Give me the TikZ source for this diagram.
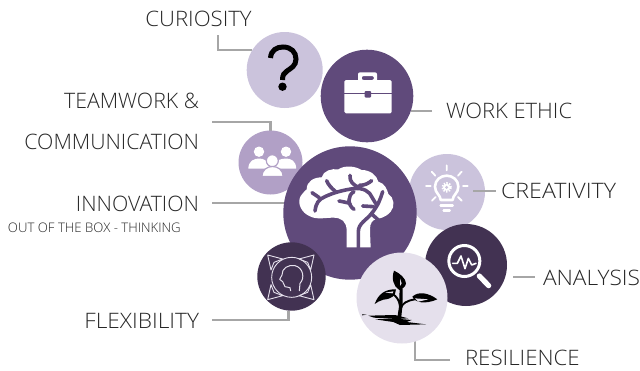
\documentclass[tikz,border=0pt]{standalone}
\usepackage{graphicx}
\usepackage{fontspec}
\setmainfont{Open Sans Light}
\definecolor{txt}{HTML}{262626}
\definecolor{conn}{HTML}{A6A6A6}
\definecolor{pA}{HTML}{CBC3DC}
\definecolor{pB}{HTML}{604A7B}
\definecolor{pC}{HTML}{B1A0C6}
\definecolor{pD}{HTML}{423252}
\definecolor{pE}{HTML}{E5E0EC}
\tikzset{
 bub/.style={circle,fill=#1,draw=none,inner sep=0pt,outer sep=0pt},
 anc/.style={circle,inner sep=0pt,outer sep=0pt},
 lab/.style={text=txt,inner sep=0pt,outer sep=0pt,font=\fontsize{21.3}{22}\selectfont},
 smalllab/.style={text=txt,inner sep=0pt,outer sep=0pt,font=\fontsize{13.2}{14}\selectfont},
 link/.style={draw=conn,line width=2.4pt},
 zoomed/.style={x=0.33333pt,y=-0.33333pt},
 wl/.style={draw=white,line cap=round,line join=round},
 br/.style={draw=pB,line width=3.6pt,line cap=round,line join=round},
}
\begin{document}
\begin{tikzpicture}[x=1pt,y=-1pt]
\useasboundingbox (0,0) rectangle (640,370);
% labels
\node[lab,anchor=center] (lcur) at (198.5,18.5) {\scalebox{1.04}[1]{CURIOSITY}};
\node[lab,anchor=east] (lteam) at (199,100.5) {TEAMWORK \&};
\node[lab,anchor=east] (lcomm) at (199,141.5) {COMMUNICATION};
\node[lab,anchor=east] (linn) at (199,203.5) {INNOVATION};
\node[smalllab,anchor=west] (lout) at (8,227.5) {OUT OF THE BOX - THINKING};
\node[lab,anchor=east] (lflex) at (199,320.5) {\scalebox{1.065}[1]{FLEXIBILITY}};
\node[lab,anchor=west] (lwork) at (446,110.5) {\scalebox{1.03}[1]{WORK ETHIC}};
\node[lab,anchor=west] (lcre) at (501,190.5) {\scalebox{1.09}[1]{CREATIVITY}};
\node[lab,anchor=west] (lana) at (543,277.5) {\scalebox{1.065}[1]{ANALYSIS}};
\node[lab,anchor=west] (lres) at (465,357.5) {\scalebox{1.045}[1]{RESILIENCE}};
% invisible anchors of bubbles, for the connectors
\node[anc,minimum size=76pt] (cur) at (284.7,70) {};
\node[anc,minimum size=92.6pt] (work) at (367,96) {};
\node[anc,minimum size=64pt] (team) at (270.5,162.5) {};
\node[anc,minimum size=133.4pt] (brain) at (350,213) {};
\node[anc,minimum size=68.4pt] (flex) at (291.5,276.5) {};
\node[anc,minimum size=91pt] (res) at (402,298) {};
% connector ends
\coordinate (c1a) at (218,35);
\coordinate (c2a) at (212,122);
\coordinate (c3a) at (212,203);
\coordinate (c4a) at (212,320);
\coordinate (c5a) at (432,111);
\coordinate (c6a) at (473,191);
\coordinate (c6b) at (496,191);
\coordinate (c7a) at (513,277);
\coordinate (c7b) at (535,277);
\coordinate (c8a) at (450,360);
\coordinate (c8b) at (415,340);
% connectors
\draw[link] (c1a) |- (cur.148);
\draw[link] (c2a) -| (team.north);
\draw[link] (c3a) -- (c3a -| brain.172);
\draw[link] (c4a) -| (flex.-95);
\draw[link] (c5a) -- (c5a -| work.-18);
\draw[link] (c8a) -| (c8b);
% bubbles
\node[bub=pA,minimum size=76pt] at (cur) {};
\node[bub=pB,minimum size=92.6pt] at (work) {};
\node[bub=pC,minimum size=64pt] at (team) {};
\node[bub=pA,minimum size=76pt] (cre) at (447,192) {};
\node[bub=pB,minimum size=133.4pt] at (brain) {};
\node[bub=pD,minimum size=82pt] (ana) at (466,265) {};
\node[bub=pD,minimum size=68.4pt] at (flex) {};
\node[bub=pE,minimum size=91pt] at (res) {};
\draw[link] (c6a) -- (c6b);
\draw[link] (c7a) -- (c7b);
% question mark
\draw[line width=5pt,black] (270.5,58) .. controls (271,50) and (277,47) .. (283,47) .. controls (291,47) and (296,52) .. (296,59) .. controls (296,66) and (291,68) .. (287,71) .. controls (284,73) and (282.5,75) .. (282.5,80);
\fill[black] (282.5,86.7) circle (4.2pt);
% briefcase
\fill[white,rounded corners=1.5pt] (344.3,80) rectangle (391.7,113.3);
\fill[white,rounded corners=2pt,even odd rule] (358,72.3) rectangle (377,82) (361.7,76) rectangle (374,80);
\draw[pB,line width=1pt] (344,93.7) -- (392,93.7);
\fill[pB,rounded corners=1pt] (364.5,91) rectangle (371,97.5);
% team
\fill[white] (259,151.7) circle (5.2pt) (286,151.7) circle (5.2pt);
\fill[white] (248.3,168.5) .. controls (248.5,161) and (254,158.5) .. (259,158.5) .. controls (264,158.5) and (269,161) .. (270,168.5) -- cycle;
\fill[white] (271,168.5) .. controls (272,161) and (281,158.5) .. (286,158.5) .. controls (291,158.5) and (296,161) .. (296.2,168.5) -- cycle;
\fill[white,draw=pC,line width=1.2pt] (272.3,160.7) circle (6pt);
\fill[white,draw=pC,line width=1.2pt] (261.8,176.5) .. controls (262,170) and (267,166.5) .. (272.5,166.5) .. controls (278,166.5) and (283,170) .. (283.2,176.5) -- cycle;
% brain
\begin{scope}[shift={(270,140)},zoomed]
\fill[white] (230,322) -- (230,272) .. controls (230,245) and (215,233) .. (190,233) .. controls (165,233) and (140,240) .. (118,228)
 .. controls (95,218) and (80,190) .. (92,168) .. controls (97,158) and (105,155) .. (110,148)
 .. controls (110,125) and (130,112) .. (155,112) .. controls (160,92) and (185,85) .. (205,88)
 .. controls (225,75) and (255,78) .. (275,90) .. controls (300,90) and (320,105) .. (325,125)
 .. controls (345,130) and (352,150) .. (355,162) .. controls (372,172) and (376,200) .. (362,215)
 .. controls (345,235) and (325,235) .. (312,240) .. controls (300,248) and (300,260) .. (300,275) -- (302,322) -- cycle;
\draw[br] (265,323) -- (265,275) .. controls (265,250) and (290,240) .. (305,220) .. controls (325,195) and (330,180) .. (338,155);
\draw[br] (305,222) -- (325,240);
\draw[br] (278,198) -- (312,200);
\draw[br] (135,213) .. controls (138,190) and (145,178) .. (165,170) .. controls (190,158) and (220,150) .. (250,146) .. controls (280,142) and (300,155) .. (306,172) -- (320,195);
\draw[br] (126,158) -- (148,173);
\draw[br] (170,122) .. controls (175,135) and (185,145) .. (197,155);
\draw[br] (240,106) .. controls (238,125) and (250,135) .. (268,143);
\draw[br] (268,136) .. controls (285,136) and (295,130) .. (305,122);
\draw[br] (207,183) .. controls (220,185) and (230,188) .. (240,190);
\draw[br] (252,155) .. controls (232,165) and (232,195) .. (252,208);
\end{scope}
% bulb
\begin{scope}[shift={(350,150)},zoomed]
\draw[wl,line width=2.6pt] (272,150) .. controls (272,135) and (255,130) .. (255,110) .. controls (255,90) and (272,77) .. (290,77) .. controls (308,77) and (325,90) .. (325,110) .. controls (325,130) and (308,135) .. (308,150) -- cycle;
\draw[wl,line width=2.6pt] (272,166) -- (308,166);
\draw[wl,line width=2.6pt] (281,182) -- (299,182);
\fill[white] (290,112) circle (3.6pt);
\draw[white,line width=1.8pt,dash pattern=on 1.4pt off 1.4pt] (290,112) circle (4.4pt);
\fill[pA] (290,112) circle (1.6pt);
\draw[wl,line width=1.8pt] (290,46) -- (290,61) (245,65) -- (256,77) (335,65) -- (324,77) (228,108) -- (242,108) (339,108) -- (353,108) (246,152) -- (257,141) (335,152) -- (324,141);
\end{scope}
% magnifier
\begin{scope}[shift={(350,150)},zoomed]
\draw[white,line width=3pt] (343,333) circle (15.5pt);
\draw[wl,line width=5.2pt] (388,378) -- (416,407);
\draw[wl,line width=1.6pt] (308,340) -- (322,340) -- (333,318) -- (345,356) -- (355,325) -- (365,345) -- (378,340);
\end{scope}
% sprout
\begin{scope}[shift={(350,150)},zoomed]
\fill[black] (132,362) .. controls (150,370) and (167,385) .. (168,400) .. controls (167,412) and (155,417) .. (148,420) .. controls (130,410) and (124,385) .. (132,362) -- cycle;
\fill[pE] (150,385) -- (155,400) -- (150,408) -- cycle;
\fill[black] (149,415) -- (158,415) -- (158,460) -- (153,510) -- (141,510) -- (147,470) -- cycle;
\fill[black] (74,462) .. controls (85,432) and (105,417) .. (138,418) .. controls (137,437) and (125,447) .. (100,449) .. controls (90,452) and (80,457) .. (74,462) -- cycle;
\fill[pE] (105,428) -- (130,424) -- (128,430) -- cycle;
\fill[black] (262,448) .. controls (235,428) and (205,423) .. (187,440) .. controls (195,458) and (225,464) .. (262,448) -- cycle;
\fill[pE] (195,445) -- (235,448) -- (205,455) -- cycle;
\draw[black,line width=1.9pt] (152,478) .. controls (155,460) and (170,452) .. (195,448);
\draw[black,line width=1.9pt] (150,470) .. controls (148,450) and (140,440) .. (128,432);
\fill[black] (36,493) -- (50,494) -- (36,496) -- cycle;
\fill[black] (55,497) -- (135,495) -- (175,505) -- (140,507) -- (105,505) -- (72,503) -- cycle;
\fill[black] (75,508) -- (140,506) -- (185,510) -- (170,516) -- (228,523) -- (150,525) -- (130,516) -- cycle;
\end{scope}
% flexibility
\begin{scope}[shift={(240,235)},zoomed]
\tikzset{thinl/.style={draw=pE,line width=0.9pt,line join=round}}
\draw[thinl] (155,127) circle (20pt);
\draw[thinl] (83,60) -- (128,72) -- (102,82) -- (93,105) -- cycle;
\draw[thinl] (222,60) -- (177,72) -- (203,82) -- (212,105) -- cycle;
\draw[thinl] (83,194) -- (128,182) -- (102,172) -- (93,149) -- cycle;
\draw[thinl] (222,194) -- (177,182) -- (203,172) -- (212,149) -- cycle;
\draw[thinl,line width=1pt] (152,168) -- (150,158) -- (135,155) -- (128,140) -- (119,133) -- (126,120) .. controls (125,100) and (145,88) .. (165,92) .. controls (190,98) and (195,130) .. (180,145) -- (178,168);
\end{scope}
\end{tikzpicture}
\end{document}
